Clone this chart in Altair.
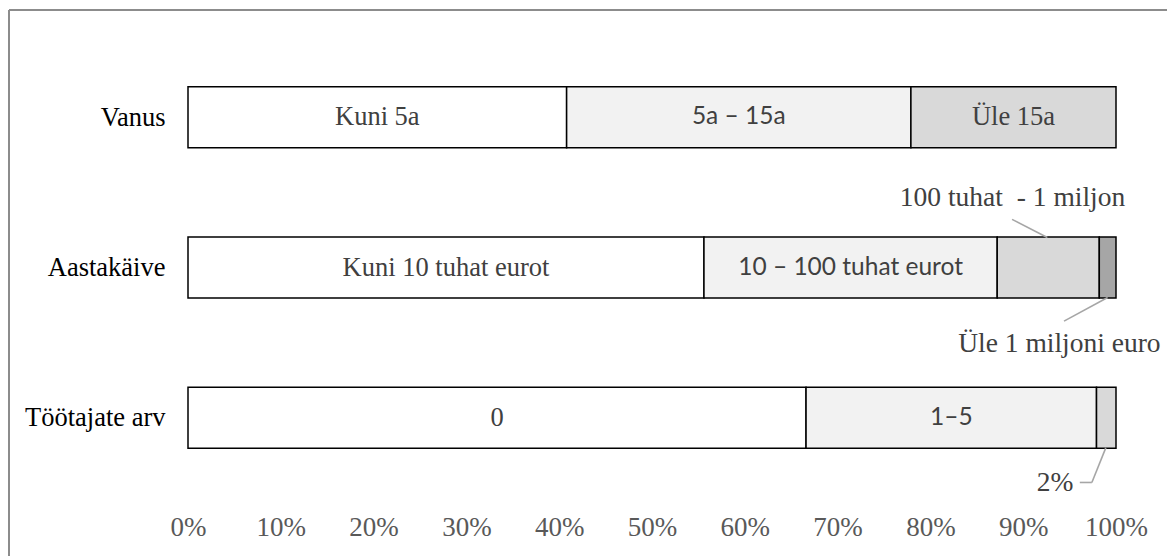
import json
import altair as alt
import pandas as pd

# ---------------- data ----------------
categories = ["Vanus", "Aastakäive", "Töötajate arv"]

vanus_values = [40.8, 37.1, 22.1]
vanus_labels = ["Kuni 5a", "5a – 15a", "Üle 15a"]

kaive_values = [55.6, 31.6, 11.0, 1.8]
kaive_labels = ["Kuni 10 tuhat eurot", "10 – 100 tuhat eurot", "", ""]

tootajad_values = [66.6, 31.3, 2.1]
tootajad_labels = ["0", "1–5", ""]

x_ticks = [0, 10, 20, 30, 40, 50, 60, 70, 80, 90, 100]

# callout labels (x in %, row position in row units)
callout_texts = ["100 tuhat \u00a0- 1 miljon", "Üle 1 miljoni euro", "2%"]
callout_x = [88.85, 93.9, 95.4]
callout_row = [0.59, 1.56, 2.49]
callout_align = ["center", "center", "right"]

# leader lines (x in %, row units)
leader_x = [88.8, 99.1, 98.9, 97.4]
leader_row = [0.68, 1.20, 2.20, 2.43]
leader_x2 = [92.6, 94.4, 97.4, 96.1]
leader_row2 = [0.80, 1.357, 2.43, 2.43]

sans_labels = ["5a – 15a", "10 – 100 tuhat eurot", "1–5"]
fill_colors = ["#ffffff", "#f2f2f2", "#d9d9d9", "#a6a6a6"]

# ---------------- tables ----------------
rows = []
for r, (vals, labs) in enumerate([(vanus_values, vanus_labels),
                                  (kaive_values, kaive_labels),
                                  (tootajad_values, tootajad_labels)]):
    start = 0
    for i, (v, l) in enumerate(zip(vals, labs)):
        rows.append({"row": r, "seg": i, "start": start, "end": start + v,
                     "mid": start + v / 2, "label": l,
                     "sans": l in sans_labels})
        start += v
bars_df = pd.DataFrame(rows)

callout_df = pd.DataFrame({"text": callout_texts, "x": callout_x,
                           "row": callout_row, "align": callout_align})
leader_df = pd.DataFrame({"x": leader_x, "row": leader_row,
                          "x2": leader_x2, "row2": leader_row2})

SERIF = "Liberation Serif"
SANS = "Lato"

y_scale = alt.Scale(domain=[-0.5, 2.5], reverse=True, nice=False, zero=False)
x_scale = alt.Scale(domain=[0, 100], nice=False)

label_expr_y = json.dumps(categories) + "[datum.value]"

bars = alt.Chart(bars_df).mark_bar(size=61, stroke="#000000", strokeWidth=1.5).encode(
    x=alt.X("start:Q", scale=x_scale, title=None,
            axis=alt.Axis(values=x_ticks, labelExpr="datum.value + '%'",
                          domain=False, ticks=False, grid=False,
                          labelFont=SERIF, labelFontSize=27, labelColor="#595959",
                          labelPadding=16, labelFlush=False)),
    x2="end:Q",
    y=alt.Y("row:Q", scale=y_scale, title=None,
            axis=alt.Axis(values=[0, 1, 2], labelExpr=label_expr_y,
                          domain=False, ticks=False, grid=False,
                          labelFont=SERIF, labelFontSize=26.5, labelColor="#000000",
                          labelPadding=23, labelBaseline="middle")),
    color=alt.Color("seg:O", scale=alt.Scale(domain=[0, 1, 2, 3], range=fill_colors),
                    legend=None),
)

text_serif = alt.Chart(bars_df).transform_filter("!datum.sans").mark_text(
    font=SERIF, fontSize=26.5, color="#404040", baseline="middle", align="center"
).encode(x=alt.X("mid:Q", title=None), y=alt.Y("row:Q", title=None), text="label:N")

text_sans = alt.Chart(bars_df).transform_filter("datum.sans").mark_text(
    font=SANS, fontSize=24.5, color="#404040", baseline="middle", align="center"
).encode(x=alt.X("mid:Q", title=None), y=alt.Y("row:Q", title=None), text="label:N")

leaders = alt.Chart(leader_df).mark_rule(color="#a6a6a6", strokeWidth=1.6).encode(
    x=alt.X("x:Q", title=None), x2="x2:Q",
    y=alt.Y("row:Q", title=None), y2="row2:Q",
)

callout_c = alt.Chart(callout_df).transform_filter("datum.align == 'center'").mark_text(
    font=SERIF, fontSize=27.5, color="#404040", baseline="alphabetic", align="center"
).encode(x=alt.X("x:Q", title=None), y=alt.Y("row:Q", title=None), text="text:N")

callout_r = alt.Chart(callout_df).transform_filter("datum.align == 'right'").mark_text(
    font=SERIF, fontSize=27.5, color="#404040", baseline="alphabetic", align="right"
).encode(x=alt.X("x:Q", title=None), y=alt.Y("row:Q", title=None), text="text:N")

frame_top = alt.Chart(bars_df).mark_rule(color="#8c8c8c", strokeWidth=2).encode(
    x=alt.value(-179), x2=alt.value(1100), y=alt.value(-27))
frame_left = alt.Chart(bars_df).mark_rule(color="#8c8c8c", strokeWidth=2).encode(
    x=alt.value(-179), y=alt.value(-27), y2=alt.value(700))

chart = alt.layer(
    frame_top, frame_left, bars, text_serif, text_sans, leaders, callout_c, callout_r
).properties(
    width=928, height=461,
    autosize=alt.AutoSizeParams(type="none"),
    padding={"left": 188, "top": 37, "right": 51, "bottom": 58},
    background="#ffffff",
).configure_view(stroke=None)

chart.save("out.html", embed_options={"renderer": "svg", "actions": False})
